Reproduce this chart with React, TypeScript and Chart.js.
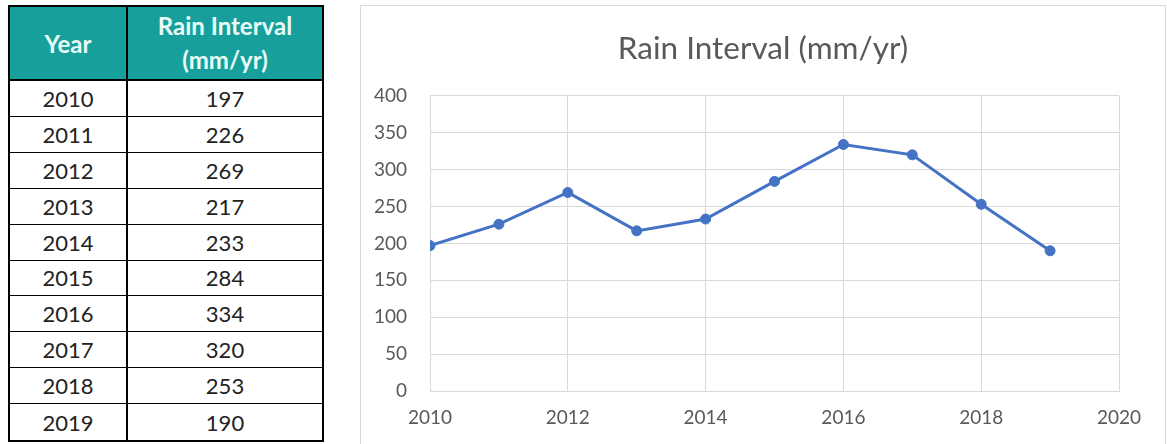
import React, { useEffect, useRef } from "react";
import { Chart, registerables } from "chart.js";

Chart.register(...registerables);

// Yearly rain interval values (mm/yr)
const years: number[] = [2010, 2011, 2012, 2013, 2014, 2015, 2016, 2017, 2018, 2019];
const rainInterval: number[] = [197, 226, 269, 217, 233, 284, 334, 320, 253, 190];
const chartTitle = "Rain Interval (mm/yr)";
const yearHeader = "Year";
const valueHeader = ["Rain Interval", "(mm/yr)"];

const FONT = "Lato, 'Open Sans', sans-serif";
const LINE_BLUE = "#4472C4";
const GRID = "#d9d9d9";
const TEXT = "#595959";

function RainChart() {
  const ref = useRef<HTMLCanvasElement | null>(null);

  useEffect(() => {
    if (!ref.current) return;
    const chart = new Chart(ref.current, {
      type: "line",
      data: {
        datasets: [
          {
            label: chartTitle,
            data: years.map((y, i) => ({ x: y, y: rainInterval[i] })),
            borderColor: LINE_BLUE,
            backgroundColor: LINE_BLUE,
            borderWidth: 3,
            pointRadius: 5,
            pointBorderWidth: 1,
            pointBackgroundColor: LINE_BLUE,
            pointBorderColor: LINE_BLUE,
            tension: 0,
            yAxisID: "y",
          },
        ],
      },
      options: {
        animation: false,
        responsive: false,
        maintainAspectRatio: false,
        layout: { padding: 0 },
        plugins: {
          legend: { display: false },
          tooltip: { enabled: false },
          title: {
            display: true,
            text: chartTitle,
            color: TEXT,
            font: { family: FONT, size: 31.5, weight: "normal" },
            padding: { top: 24, bottom: 28 },
          },
        },
        scales: {
          x: {
            type: "linear",
            min: 2010,
            max: 2020,
            ticks: {
              stepSize: 2,
              color: TEXT,
              padding: 15,
              font: { family: FONT, size: 19 },
              callback: (v: any) => String(v),
              maxRotation: 0,
            },
            grid: { color: GRID, lineWidth: 1, drawTicks: false },
            border: { color: GRID, width: 1 },
            afterFit: (s: any) => {
              s.height = 53;
            },
          },
          y: {
            min: 0,
            max: 400,
            ticks: {
              stepSize: 50,
              color: TEXT,
              padding: 23,
              font: { family: FONT, size: 19 },
            },
            grid: { color: GRID, lineWidth: 1, drawTicks: false },
            border: { color: GRID, width: 1 },
            afterFit: (s: any) => {
              s.width = 69;
            },
          },
          // empty right-hand margin so the plot stops short of the frame
          yRight: {
            position: "right",
            min: 0,
            max: 400,
            ticks: { display: false },
            grid: { display: false, drawTicks: false },
            border: { display: false },
            afterFit: (s: any) => {
              s.width = 46;
            },
          },
        },
      },
    });
    return () => chart.destroy();
  }, []);

  return <canvas ref={ref} width={804} height={438} style={{ display: "block" }} />;
}

function RainTable() {
  const cellBase: React.CSSProperties = {
    display: "flex",
    alignItems: "center",
    justifyContent: "center",
    boxSizing: "border-box",
    fontFamily: FONT,
  };
  return (
    <div
      style={{
        position: "absolute",
        left: 8,
        top: 5,
        width: 316,
        height: 437,
        boxSizing: "border-box",
        border: "2px solid #000",
        display: "grid",
        gridTemplateColumns: "118px 1fr",
        gridTemplateRows: `74px repeat(${years.length}, 1fr)`,
        background: "#fff",
      }}
    >
      <div
        style={{
          ...cellBase,
          background: "#17a09b",
          color: "#e9fbf7",
          fontWeight: 700,
          fontSize: 24,
          borderRight: "2px solid #000",
          borderBottom: "2px solid #000",
        }}
      >
        {yearHeader}
      </div>
      <div
        style={{
          ...cellBase,
          flexDirection: "column",
          background: "#17a09b",
          color: "#e9fbf7",
          fontWeight: 700,
          fontSize: 24,
          lineHeight: "34px",
          borderBottom: "2px solid #000",
        }}
      >
        <span>{valueHeader[0]}</span>
        <span>{valueHeader[1]}</span>
      </div>
      {years.map((y, i) => {
        const last = i === years.length - 1;
        return (
          <React.Fragment key={y}>
            <div
              style={{
                ...cellBase,
                color: "#222",
                fontSize: 22,
                borderRight: "2px solid #000",
                borderBottom: last ? "none" : "1.5px solid #000",
              }}
            >
              {y}
            </div>
            <div
              style={{
                ...cellBase,
                color: "#222",
                fontSize: 22,
                borderBottom: last ? "none" : "1.5px solid #000",
              }}
            >
              {rainInterval[i]}
            </div>
          </React.Fragment>
        );
      })}
    </div>
  );
}

export default function App() {
  return (
    <div
      style={{
        position: "absolute",
        left: 0,
        top: 0,
        width: 1167,
        height: 444,
        overflow: "hidden",
        background: "#fff",
      }}
    >
      <RainTable />
      <div
        style={{
          position: "absolute",
          left: 360,
          top: 5,
          width: 806,
          height: 445,
          boxSizing: "border-box",
          border: `1px solid ${GRID}`,
          background: "#fff",
        }}
      >
        <RainChart />
      </div>
    </div>
  );
}
